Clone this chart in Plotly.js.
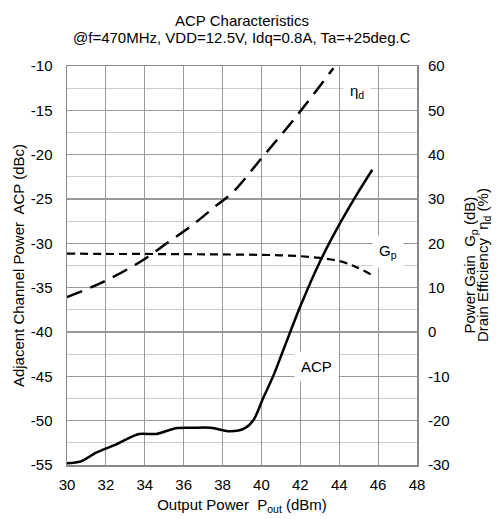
<!DOCTYPE html>
<html><head><meta charset="utf-8">
<script src="https://cdn.plot.ly/plotly-3.0.1.min.js"></script>
<style>html,body{margin:0;padding:0;background:#fff;}#chart{width:500px;height:519px;}</style>
</head><body><div id="chart"></div>
<script>
// ACP (dBc) vs output power (dBm), left axis
const acpX = [30, 30.7, 31.5, 32.5, 33.7, 34.6, 35.6, 36.5, 37.4, 38.4, 39.15, 39.6, 40.1, 40.6, 41.13, 42.0, 43.0, 44.0, 44.9, 45.7];
const acpY = [-54.8, -54.6, -53.6, -52.7, -51.5, -51.5, -50.85, -50.8, -50.8, -51.2, -50.85, -49.9, -47.4, -45.0, -42.0, -37.1, -32.1, -27.9, -24.5, -21.7];
// Drain efficiency (%) right axis
const effX = [30, 31.87, 33.75, 35.13, 36.5, 37.7, 38.55, 39.93, 41.64, 43.7];
const effY = [7.9, 11.3, 15.8, 20.0, 24.3, 28.6, 31.6, 38.8, 47.8, 59.5];
// Power gain (dB) right axis
const gpX = [30, 32, 34, 36, 38, 40, 41, 42, 43, 44, 44.8, 45.7];
const gpY = [17.7, 17.6, 17.6, 17.55, 17.5, 17.4, 17.3, 17.1, 16.7, 16.0, 14.8, 12.8];
const xTicks = [30, 32, 34, 36, 38, 40, 42, 44, 46, 48];
const leftTicks = [-55, -50, -45, -40, -35, -30, -25, -20, -15, -10];
const rightTicks = [-30, -20, -10, 0, 10, 20, 30, 40, 50, 60];
const titleLines = ['ACP Characteristics', '@f=470MHz, VDD=12.5V, Idq=0.8A, Ta=+25deg.C'];
const rightTitleLines = ['Power Gain  G<sub>p</sub> (dB)', 'Drain Efficiency  η<sub>d</sub> (%)'];
const labels = [
  {text: 'η<sub>d</sub>', x: 44.9, y: -12.9},
  {text: 'G<sub>p</sub>', x: 46.5, y: -30.9},
  {text: 'ACP', x: 42.85, y: -43.9}
];

const font = {family: 'Arial, "Liberation Sans", sans-serif', color: '#000'};
const f = s => Object.assign({size: s}, font);
const traces = [
  {x: acpX, y: acpY, mode: 'lines', line: {color: '#000', width: 2.5, shape: 'spline', smoothing: 0.8}, yaxis: 'y', hoverinfo: 'none'},
  {x: effX, y: effY, mode: 'lines', line: {color: '#000', width: 2.5, dash: '16px,9px', shape: 'spline'}, yaxis: 'y2', hoverinfo: 'none'},
  {x: gpX, y: gpY, mode: 'lines', line: {color: '#000', width: 2.2, dash: '8px,5px', shape: 'spline'}, yaxis: 'y2', hoverinfo: 'none'}
];
const annotations = labels.map(l => ({text: l.text, x: l.x, y: l.y, xref: 'x', yref: 'y', showarrow: false, bgcolor: '#fff', borderpad: 6, font: f(15)}));
titleLines.forEach((t, i) => annotations.push({text: t, xref: 'paper', yref: 'paper', x: 0.5, y: 1, xanchor: 'center', yanchor: 'middle', yshift: 46 - i * 17.5, showarrow: false, font: f(15)}));
rightTitleLines.forEach((t, i) => annotations.push({text: t, xref: 'paper', yref: 'paper', x: 1, y: 0.5, xanchor: 'center', yanchor: 'middle', xshift: 53 + i * 13.5, textangle: -90, showarrow: false, font: f(15)}));
const layout = {
  width: 500, height: 519, showlegend: false,
  paper_bgcolor: '#fff', plot_bgcolor: '#fff',
  font: f(14),
  margin: {l: 67, r: 83, t: 66, b: 54},
  xaxis: {range: [30, 48], tickvals: xTicks, ticktext: xTicks.map(String), showgrid: true, gridcolor: '#999', gridwidth: 1.2, zeroline: false, showline: true, linecolor: '#888', linewidth: 1.5, mirror: true, ticks: '', ticklabelstandoff: 5, tickfont: f(15),
    title: {text: 'Output Power  P<sub>out</sub> (dBm)', font: f(15), standoff: 8}},
  yaxis: {range: [-55, -10], tickvals: leftTicks, ticktext: leftTicks.map(String), showgrid: true, gridcolor: '#999', gridwidth: 1.2, zeroline: false, showline: true, linecolor: '#888', linewidth: 1.5, mirror: true, ticks: '', ticklabelstandoff: 10, tickfont: f(15),
    minor: {dtick: 2.5, tick0: -55, showgrid: true, gridcolor: '#ccc', gridwidth: 1.2},
    title: {text: 'Adjacent Channel Power  ACP (dBc)', font: f(15), standoff: 2}},
  yaxis2: {range: [-30, 60], overlaying: 'y', side: 'right', tickvals: rightTicks, ticktext: rightTicks.map(String), showgrid: false, zeroline: false, showline: false, ticks: '', ticklabelstandoff: 10, tickfont: f(15)},
  annotations: annotations
};
Plotly.newPlot('chart', traces, layout, {staticPlot: true, displayModeBar: false});
</script></body></html>
